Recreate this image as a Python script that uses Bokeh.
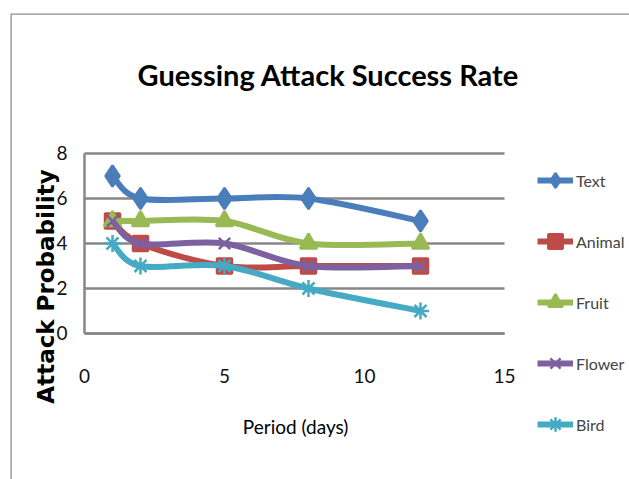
import math
from bokeh.plotting import figure
from bokeh.models import Label, Legend, LegendItem, Range1d, FixedTicker, Span
from bokeh.embed import file_html
from bokeh.resources import INLINE

days = [1, 2, 5, 8, 12]
series_names = ["Text", "Animal", "Fruit", "Flower", "Bird"]
text_vals = [7, 6, 6, 6, 5]
animal_vals = [5, 4, 3, 3, 3]
fruit_vals = [5, 5, 5, 4, 4]
flower_vals = [5, 4, 4, 3, 3]
bird_vals = [4, 3, 3, 2, 1]
x_ticks = [0, 5, 10, 15]
y_ticks = [0, 2, 4, 6, 8]

colors = ["#4A7EBB", "#BE4B48", "#98B954", "#7D60A0", "#46AAC5"]
markers = ["diamond", "square", "triangle", "x", "asterisk"]
msizes = [21, 15, 17, 16, 17]
all_vals = [text_vals, animal_vals, fruit_vals, flower_vals, bird_vals]

FONT = "Lato"
GRID = "#878787"

# frame covers nearly the whole canvas; axes are pinned at the data origin
p = figure(width=629, height=479, output_backend="svg", toolbar_location=None,
           x_range=Range1d(-2.643, 19.464), y_range=Range1d(-6.489, 14.222),
           min_border_left=10, min_border_top=13, min_border_right=0, min_border_bottom=0)
p.outline_line_color = None
p.background_fill_color = "white"
p.border_fill_color = "white"
p.xgrid.visible = False
p.ygrid.visible = False

# chart-area border: only top and left edges are in view
p.add_layout(Span(location=p.y_range.end, dimension="width", line_color="#8C8C8C", line_width=2.5))
p.add_layout(Span(location=p.x_range.start, dimension="height", line_color="#8C8C8C", line_width=2.5))

p.yaxis.ticker = FixedTicker(ticks=y_ticks)
p.xaxis.ticker = FixedTicker(ticks=x_ticks)
p.xaxis.fixed_location = 0
p.yaxis.fixed_location = 0
p.yaxis.bounds = (y_ticks[0], y_ticks[-1])
p.xaxis.bounds = (x_ticks[0], x_ticks[-1])
for ax in (p.xaxis[0], p.yaxis[0]):
    ax.axis_line_color = GRID
    ax.axis_line_width = 2.5
    ax.major_tick_line_color = None
    ax.minor_tick_line_color = None
    ax.major_label_text_font = FONT
    ax.major_label_text_font_size = "19px"
    ax.major_label_text_color = "#111111"
p.xaxis.major_label_standoff = 30
p.yaxis.major_label_standoff = 11

# horizontal gridlines across the x tick span
p.segment(x0=[x_ticks[0]] * len(y_ticks), x1=[x_ticks[-1]] * len(y_ticks),
          y0=y_ticks, y1=y_ticks, line_color=GRID, line_width=2.5)


def smooth_segments(xs, ys):
    n = len(xs)
    out = {k: [] for k in ("x0", "y0", "x1", "y1", "cx0", "cy0", "cx1", "cy1")}
    for i in range(n - 1):
        xm, ym = (xs[i - 1], ys[i - 1]) if i > 0 else (xs[i], ys[i])
        xp, yp = (xs[i + 2], ys[i + 2]) if i + 2 < n else (xs[i + 1], ys[i + 1])
        out["x0"].append(xs[i]); out["y0"].append(ys[i])
        out["x1"].append(xs[i + 1]); out["y1"].append(ys[i + 1])
        out["cx0"].append(xs[i] + (xs[i + 1] - xm) / 6)
        out["cy0"].append(ys[i] + (ys[i + 1] - ym) / 6)
        out["cx1"].append(xs[i + 1] - (xp - xs[i]) / 6)
        out["cy1"].append(ys[i + 1] - (yp - ys[i]) / 6)
    return out


items = []
for name, vals, c, m, s in zip(series_names, all_vals, colors, markers, msizes):
    seg = smooth_segments(days, vals)
    lr = p.bezier(line_color=c, line_width=6, **seg)
    mr = p.scatter(days, vals, marker=m, size=s, fill_color=c, line_color=c, line_width=2.5)
    items.append(LegendItem(label=name, renderers=[lr, mr]))

legend = Legend(items=items, location=(527, 37), orientation="vertical",
                glyph_width=36, glyph_height=36, label_height=36, spacing=25,
                label_text_font=FONT, label_text_font_size="16px",
                label_standoff=3, padding=0, margin=0,
                border_line_color=None, background_fill_alpha=0)
p.add_layout(legend, "center")

p.add_layout(Label(x=8.71, y=11.5, text="Guessing Attack Success Rate",
                   text_font=FONT, text_font_style="bold", text_font_size="29px",
                   text_align="center", text_baseline="middle", text_color="#000000"))
p.add_layout(Label(x=-1.39, y=2.09, text="Attack Probability", angle=math.pi / 2,
                   text_font="DejaVu Sans", text_font_style="bold", text_font_size="23px",
                   text_align="center", text_baseline="middle", text_color="#000000"))
p.add_layout(Label(x=7.54, y=-4.15, text="Period (days)",
                   text_font=FONT, text_font_size="19px",
                   text_align="center", text_baseline="middle", text_color="#000000"))

open("out.html", "w").write(file_html(p, INLINE))
